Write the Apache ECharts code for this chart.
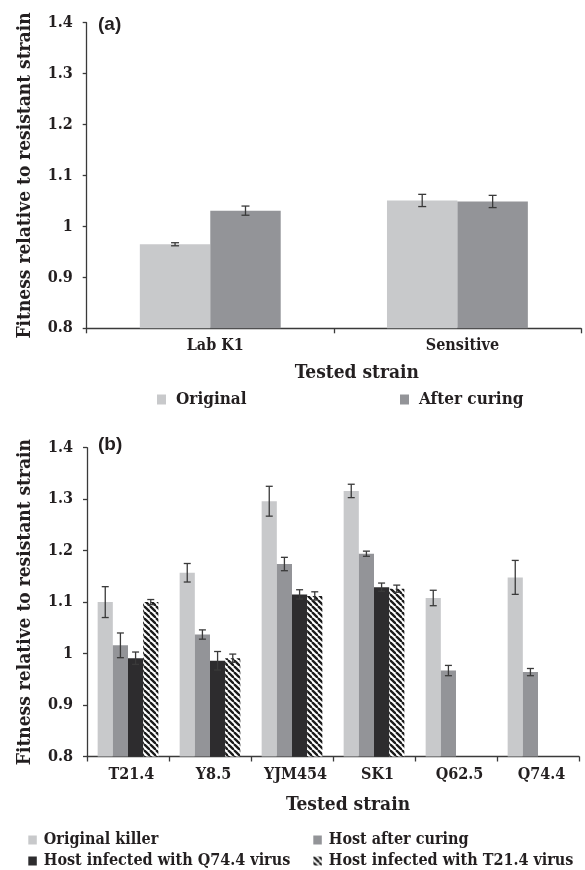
<!DOCTYPE html>
<html><head><meta charset="utf-8">
<script src="https://cdn.jsdelivr.net/npm/echarts@6/dist/echarts.min.js"></script>
<style>html,body{margin:0;padding:0;background:#fff}#c{width:585px;height:870px}</style>
</head><body><div id="c"></div>
<script>
// ---- data ----
const catsA = ['Lab K1', 'Sensitive'];
const originalA = [0.965, 1.051];
const errOriginalA = [0.003, 0.012];
const curingA = [1.031, 1.049];
const errCuringA = [0.009, 0.012];

const catsB = ['T21.4', 'Y8.5', 'YJM454', 'SK1', 'Q62.5', 'Q74.4'];
const killerB = [1.100, 1.157, 1.296, 1.316, 1.108, 1.148];
const errKillerB = [0.030, 0.018, 0.029, 0.013, 0.015, 0.033];
const curingB = [1.016, 1.037, 1.174, 1.194, 0.967, 0.964];
const errCuringB = [0.024, 0.009, 0.013, 0.005, 0.010, 0.007];
const q74B = [0.991, 0.986, 1.115, 1.129, null, null];
const errQ74B = [0.012, 0.018, 0.009, 0.008, null, null];
const t21B = [1.100, 0.991, 1.112, 1.126, null, null];
const errT21B = [0.005, 0.008, 0.008, 0.007, null, null];

const yTicks = [0.8, 0.9, 1.0, 1.1, 1.2, 1.3, 1.4];

// ---- styles ----
const SERIF = '"DejaVu Serif Condensed", "Liberation Serif", serif';
const TXT = '#231f20';
const C_LIGHT = '#c8c9cb', C_MID = '#939498', C_DARK = '#2d2c2e';

function hatch() {
  const s = 6, cv = document.createElement('canvas');
  cv.width = s; cv.height = s;
  const g = cv.getContext('2d');
  g.fillStyle = '#fff'; g.fillRect(0, 0, s, s);
  g.strokeStyle = '#1a1a1a'; g.lineWidth = 2.3;
  for (const x0 of [-s, 0, s]) { g.beginPath(); g.moveTo(x0, 0); g.lineTo(x0 + s, s); g.stroke(); }
  return { image: cv, repeat: 'repeat' };
}
const HATCH = hatch();

function errSeries(name, gi, vals, errs, idx, n, gap, cap) {
  return {
    type: 'custom', name: name + ' err', xAxisIndex: gi, yAxisIndex: gi, z: 5, silent: true,
    data: vals.map((v, i) => [i, v, errs[i]]),
    renderItem: function (params, api) {
      const v = api.value(1), e = api.value(2);
      if (v == null || isNaN(v) || e == null || isNaN(e)) return;
      const catW = api.size([1, 0])[0];
      const gw = catW * (1 - gap), bw = gw / n;
      const c = api.coord([api.value(0), v]);
      const x = c[0] - gw / 2 + (idx + 0.5) * bw;
      const yt = api.coord([api.value(0), v + e])[1];
      const yb = api.coord([api.value(0), v - e])[1];
      const st = { stroke: '#3a3a3a', lineWidth: 1.3 };
      return { type: 'group', children: [
        { type: 'line', shape: { x1: x, y1: yt, x2: x, y2: yb }, style: st },
        { type: 'line', shape: { x1: x - cap, y1: yt, x2: x + cap, y2: yt }, style: st },
        { type: 'line', shape: { x1: x - cap, y1: yb, x2: x + cap, y2: yb }, style: st }
      ]};
    }
  };
}

function xAxis(gi, cats, gap, nameShift, labShift) {
  return {
    type: 'category', gridIndex: gi, data: cats,
    name: 'Tested strain', nameLocation: 'middle', nameGap: gap,
    nameTextStyle: { fontFamily: SERIF, fontWeight: 'bold', fontSize: 19, color: TXT, padding: [0, 0, 0, nameShift] },
    axisLine: { lineStyle: { color: '#3a3a3a', width: 1.3 } },
    axisTick: { show: true, length: 5, lineStyle: { color: '#3a3a3a', width: 1.3 } },
    axisLabel: { interval: 0, fontFamily: SERIF, fontWeight: 'bold', fontSize: 16, color: TXT, margin: 10, padding: [0, 0, 0, labShift] }
  };
}
function yAxis(gi) {
  return {
    type: 'value', gridIndex: gi, min: yTicks[0], max: yTicks[yTicks.length - 1], interval: 0.1,
    name: 'Fitness relative to resistant strain', nameLocation: 'middle', nameGap: 52,
    nameTextStyle: { fontFamily: SERIF, fontWeight: 'bold', fontSize: 19, color: TXT },
    axisLine: { show: true, lineStyle: { color: '#3a3a3a', width: 1.3 } },
    axisTick: { show: true, length: 4, lineStyle: { color: '#3a3a3a', width: 1.3 } },
    splitLine: { show: false },
    axisLabel: { fontFamily: SERIF, fontWeight: 'bold', fontSize: 16, color: TXT, margin: 14,
      formatter: v => String(Math.round(v * 10) / 10) }
  };
}
function leg(name, left, top, size, iw, ih, pad) {
  return { data: [name], left: left, top: top, padding: 0, icon: 'rect', itemWidth: iw, itemHeight: ih,
    selectedMode: false,
    textStyle: { fontFamily: SERIF, fontWeight: 'bold', fontSize: size, color: TXT, padding: [0, 0, 0, pad] } };
}

const GAP_A = 0.43, GAP_B = 0.26;
const chart = echarts.init(document.getElementById('c'), null, { renderer: 'canvas' });
chart.setOption({
  animation: false,
  backgroundColor: '#fff',
  title: [
    { text: '(a)', left: 98, top: 15, padding: 0, textStyle: { fontFamily: 'Liberation Sans', fontWeight: 'bold', fontSize: 19, color: TXT } },
    { text: '(b)', left: 98, top: 435, padding: 0, textStyle: { fontFamily: 'Liberation Sans', fontWeight: 'bold', fontSize: 19, color: TXT } }
  ],
  grid: [
    { left: 86.7, right: 4, top: 22.7, height: 305.6 },
    { left: 87, right: 6, top: 447.7, height: 308.8 }
  ],
  xAxis: [xAxis(0, catsA, 35, 46, 10), xAxis(1, catsB, 39, 30, 7)],
  yAxis: [yAxis(0), yAxis(1)],
  legend: [
    leg('Original', 157, 391, 17, 9, 10, 5),
    leg('After curing', 400, 391, 17, 9, 10, 5),
    leg('Original killer', 28.3, 832, 16, 8.5, 9, 2),
    leg('Host after curing', 313.3, 832, 16, 8.5, 9, 2),
    leg('Host infected with Q74.4 virus', 28.3, 853, 16, 8.5, 9, 2),
    leg('Host infected with T21.4 virus', 313.3, 853, 16, 8.5, 9, 2)
  ],
  series: [
    { type: 'bar', name: 'Original', xAxisIndex: 0, yAxisIndex: 0, data: originalA, barGap: '0%', barCategoryGap: '43%', itemStyle: { color: C_LIGHT } },
    { type: 'bar', name: 'After curing', xAxisIndex: 0, yAxisIndex: 0, data: curingA, barGap: '0%', barCategoryGap: '43%', itemStyle: { color: C_MID } },
    errSeries('Original', 0, originalA, errOriginalA, 0, 2, GAP_A, 4),
    errSeries('After curing', 0, curingA, errCuringA, 1, 2, GAP_A, 4),
    { type: 'bar', name: 'Original killer', xAxisIndex: 1, yAxisIndex: 1, data: killerB, barGap: '0%', barCategoryGap: '26%', itemStyle: { color: C_LIGHT } },
    { type: 'bar', name: 'Host after curing', xAxisIndex: 1, yAxisIndex: 1, data: curingB, barGap: '0%', barCategoryGap: '26%', itemStyle: { color: C_MID } },
    { type: 'bar', name: 'Host infected with Q74.4 virus', xAxisIndex: 1, yAxisIndex: 1, data: q74B, barGap: '0%', barCategoryGap: '26%', itemStyle: { color: C_DARK } },
    { type: 'bar', name: 'Host infected with T21.4 virus', xAxisIndex: 1, yAxisIndex: 1, data: t21B, barGap: '0%', barCategoryGap: '26%', itemStyle: { color: HATCH } },
    errSeries('Original killer', 1, killerB, errKillerB, 0, 4, GAP_B, 3.5),
    errSeries('Host after curing', 1, curingB, errCuringB, 1, 4, GAP_B, 3.5),
    errSeries('Q74', 1, q74B, errQ74B, 2, 4, GAP_B, 3.5),
    errSeries('T21', 1, t21B, errT21B, 3, 4, GAP_B, 3.5)
  ]
});
</script></body></html>
